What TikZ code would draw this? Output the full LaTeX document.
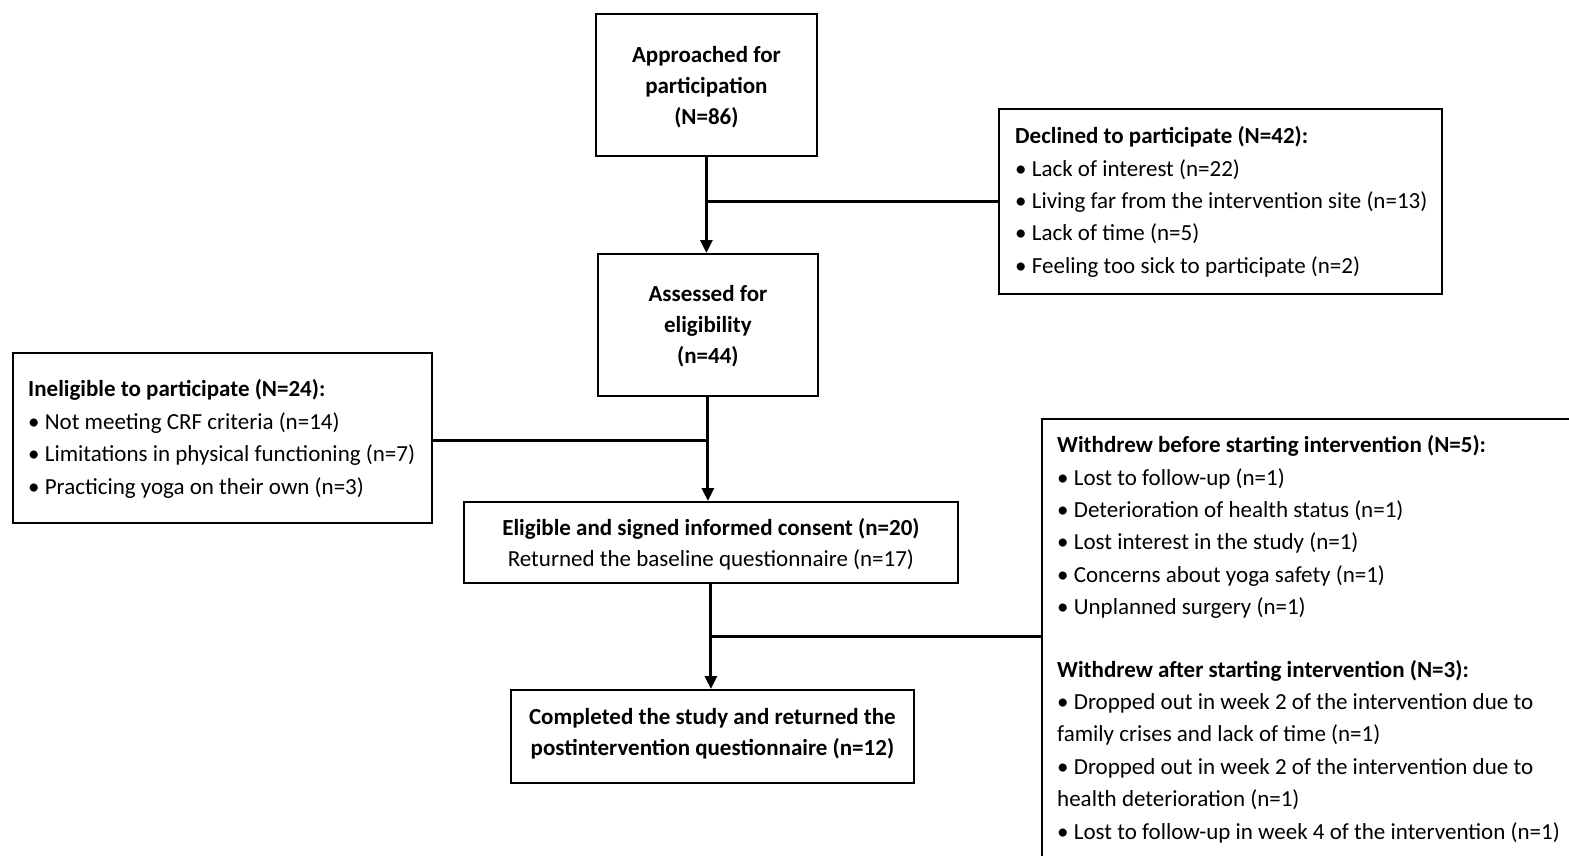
\documentclass[tikz,border=0pt]{standalone}
\usepackage{fontspec}
\setmainfont{Carlito}
\usetikzlibrary{arrows.meta,calc}
\begin{document}
\begin{tikzpicture}[x=1pt,y=-1pt,
 txt/.style={font=\fontsize{23}{32.4}\selectfont},
 ctxt/.style={font=\fontsize{23}{31}\selectfont, inner sep=0pt, align=center},
 box/.style={draw, line width=1.8pt, inner sep=0pt, anchor=north west},
 conn/.style={line width=3pt},
 arr/.style={conn, -{Triangle[length=13pt,width=12pt]}}]
\clip (0,0) rectangle (1569,856);
\fill[white] (0,0) rectangle (1569,856);

% Approached
\node[box, minimum width=221pt, minimum height=142pt] (app) at (595,13) {};
\node[ctxt, font=\fontsize{23}{31}\selectfont\bfseries] (appt) at ([yshift=-2.5pt]app.center)
 {Approached for\\participation\\(N=86)};

% Declined
\node[box, minimum width=443pt, minimum height=185pt] (dec) at (998,108) {};
\node[txt, anchor=west, inner sep=0pt, align=left] (dect) at ([xshift=17pt,yshift=-0.5pt]dec.west)
 {\textbf{Declined to participate (N=42):}\\
  • Lack of interest (n=22)\\
  • Living far from the intervention site (n=13)\\
  • Lack of time (n=5)\\
  • Feeling too sick to participate (n=2)};

% Assessed
\node[box, minimum width=220pt, minimum height=142pt] (ass) at (597,253) {};
\node[ctxt, font=\fontsize{23}{31}\selectfont\bfseries] (asst) at ([yshift=-1.5pt]ass.center)
 {Assessed for\\eligibility\\(n=44)};

% Ineligible
\node[box, minimum width=419pt, minimum height=170pt] (inel) at (12,352) {};
\node[txt, anchor=west, inner sep=0pt, align=left] (inelt) at ([xshift=16pt,yshift=-1pt]inel.west)
 {\textbf{Ineligible to participate (N=24):}\\
  • Not meeting CRF criteria (n=14)\\
  • Limitations in physical functioning (n=7)\\
  • Practicing yoga on their own (n=3)};

% Eligible
\node[box, minimum width=494pt, minimum height=81pt] (eli) at (463,501) {};
\node[ctxt] (elit) at ([yshift=-1.5pt]eli.center)
 {\textbf{Eligible and signed informed consent (n=20)}\\
  Returned the baseline questionnaire (n=17)};

% Completed
\node[box, minimum width=403pt, minimum height=93pt] (comp) at (510,689) {};
\node[ctxt, font=\fontsize{23}{31}\selectfont\bfseries] (compt) at ([yshift=2.5pt]comp.center)
 {Completed the study and returned the\\postintervention questionnaire (n=12)};

% Withdrew
\node[box, minimum width=600pt, minimum height=500pt] (wd) at (1041,418) {};
\node[txt, anchor=north west, inner sep=0pt, align=left] (wdt) at (1057,435.5)
 {\textbf{Withdrew before starting intervention (N=5):}\\
  • Lost to follow-up (n=1)\\
  • Deterioration of health status (n=1)\\
  • Lost interest in the study (n=1)\\
  • Concerns about yoga safety (n=1)\\
  • Unplanned surgery (n=1)\\[30pt]
  \textbf{Withdrew after starting intervention (N=3):}\\
  • Dropped out in week 2 of the intervention due to\\
  family crises and lack of time (n=1)\\
  • Dropped out in week 2 of the intervention due to\\
  health deterioration (n=1)\\
  • Lost to follow-up in week 4 of the intervention (n=1)};

% connectors
\draw[arr] (app.south) -- (app.south |- ass.north);
\draw[conn] (app.south |- dec.west) -- (dec.west);

\draw[arr] (ass.south) -- (ass.south |- eli.north);
\coordinate (b2) at ([yshift=-3pt]inel.east);
\draw[conn] (b2) -- (b2 -| ass.south);

\coordinate (b3) at ($(eli.south)!0.5!(comp.north)$);
\draw[arr] (eli.south) -- (eli.south |- comp.north);
\draw[conn] (b3) -- (b3 -| wd.west);
\end{tikzpicture}
\end{document}
